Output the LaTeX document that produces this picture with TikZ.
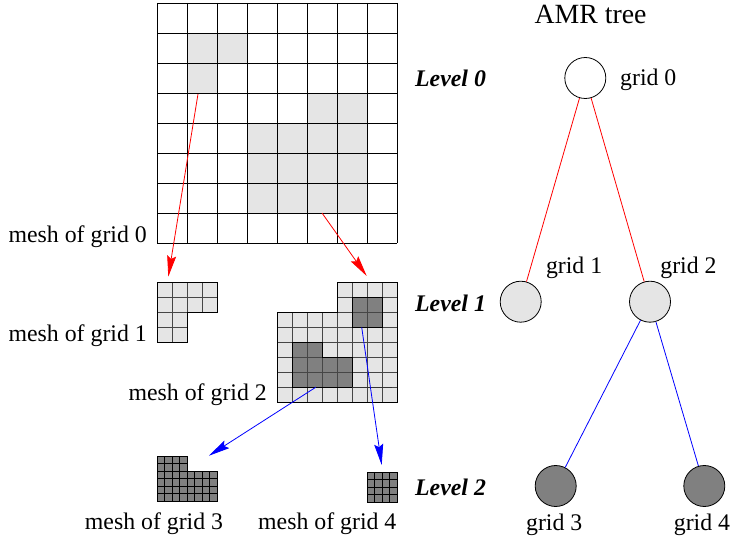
\documentclass[tikz,border=0pt]{standalone}
\usepackage{fontspec}
\setmainfont{Liberation Serif}
\usetikzlibrary{arrows.meta}
\definecolor{lightcell}{RGB}{229,229,229}
\definecolor{darkcell}{RGB}{128,128,128}
\definecolor{fineline}{RGB}{70,70,70}
\begin{document}
\begin{tikzpicture}[x=1pt,y=-1pt,
  lbl/.style={font=\fontsize{23.8}{28}\selectfont, inner sep=0pt},
  lvl/.style={font=\fontsize{23.8}{28}\selectfont\bfseries\itshape, inner sep=0pt, anchor=base west},
  treenode/.style={circle, draw, line width=0.8pt, minimum size=41pt, inner sep=0pt},
  refine/.style={-{Stealth[length=21pt,width=9pt,inset=3pt]}, line width=0.8pt},
  treeedge/.style={line width=0.8pt},
  coarse/.style={line width=0.9pt, black},
  fine/.style={line width=0.7pt, fineline},
  outline/.style={line width=0.9pt, black, line join=miter}
]
\useasboundingbox (0,0) rectangle (731,540);

% ---------- mesh of grid 0 ----------
\fill[lightcell] (187,33) rectangle (247,63);
\fill[lightcell] (187,63) rectangle (217,93);
\fill[lightcell] (307,93) rectangle (367,123);
\fill[lightcell] (247,123) rectangle (367,213);
\foreach \i in {0,...,8}{
  \draw[coarse] ({157+30*\i},3) -- ({157+30*\i},243);
  \draw[coarse] (157,{3+30*\i}) -- (397,{3+30*\i});
}

% ---------- mesh of grid 1 ----------
\fill[lightcell] (157,282) -- (217,282) -- (217,312) -- (187,312) -- (187,342) -- (157,342) -- cycle;
\draw[fine] (172,282) -- (172,342);
\draw[fine] (187,282) -- (187,312);
\draw[fine] (202,282) -- (202,312);
\draw[fine] (157,297) -- (217,297);
\draw[fine] (157,312) -- (187,312);
\draw[fine] (157,327) -- (187,327);
\draw[outline] (157,282) -- (217,282) -- (217,312) -- (187,312) -- (187,342) -- (157,342) -- cycle;

% ---------- mesh of grid 2 ----------
\fill[lightcell] (337,282) -- (397,282) -- (397,402) -- (277,402) -- (277,312) -- (337,312) -- cycle;
\fill[darkcell] (352,297) rectangle (382,327);
\fill[darkcell] (292,342) -- (322,342) -- (322,357) -- (352,357) -- (352,387) -- (292,387) -- cycle;
\foreach \k in {1,2,3,4}{\draw[fine] ({277+15*\k},312) -- ({277+15*\k},402);}
\foreach \k in {5,6,7}{\draw[fine] ({277+15*\k},282) -- ({277+15*\k},402);}
\draw[fine] (337,297) -- (397,297);
\foreach \j in {1,...,5}{\draw[fine] (277,{312+15*\j}) -- (397,{312+15*\j});}
\draw[fine] (337,312) -- (397,312);
\draw[outline] (337,282) -- (397,282) -- (397,402) -- (277,402) -- (277,312) -- (337,312) -- cycle;
\draw[outline] (352,297) rectangle (382,327);
\draw[outline] (292,342) -- (322,342) -- (322,357) -- (352,357) -- (352,387) -- (292,387) -- cycle;
\draw[line width=0.8pt, black!80] (352,387) -- (392,387);

% ---------- mesh of grid 3 ----------
\fill[darkcell] (157,456) -- (187,456) -- (187,471) -- (217,471) -- (217,501) -- (157,501) -- cycle;
\foreach \k in {1,2,3}{\draw[line width=0.6pt] ({157+7.5*\k},456) -- ({157+7.5*\k},501);}
\foreach \k in {5,6,7}{\draw[line width=0.6pt] ({157+7.5*\k},471) -- ({157+7.5*\k},501);}
\draw[line width=0.6pt] (187,456) -- (187,501);
\draw[line width=0.6pt] (157,463.5) -- (187,463.5);
\foreach \j in {3,4,5}{\draw[line width=0.6pt] (157,{456+7.5*\j}) -- (217,{456+7.5*\j});}
\draw[line width=0.6pt] (157,471) -- (217,471);
\draw[outline] (157,456) -- (187,456) -- (187,471) -- (217,471) -- (217,501) -- (157,501) -- cycle;

% ---------- mesh of grid 4 ----------
\fill[darkcell] (367,472) rectangle (397,502);
\foreach \k in {1,2,3}{
  \draw[line width=0.6pt] ({367+7.5*\k},472) -- ({367+7.5*\k},502);
  \draw[line width=0.6pt] (367,{472+7.5*\k}) -- (397,{472+7.5*\k});
}
\draw[outline] (367,472) rectangle (397,502);

% ---------- refinement arrows ----------
\coordinate (r1s) at (198,94);
\coordinate (r1e) at (168.3,276.7);
\coordinate (r2s) at (322,213);
\coordinate (r2e) at (366.7,276);
\coordinate (b1s) at (315.7,387.3);
\coordinate (b1e) at (209,455.7);
\coordinate (b2s) at (361.7,327.3);
\coordinate (b2e) at (381.7,465);
\draw[refine, red] (r1s) -- (r1e);
\draw[refine, red] (r2s) -- (r2e);
\draw[refine, blue] (b1s) -- (b1e);
\draw[refine, blue] (b2s) -- (b2e);

% ---------- mesh labels ----------
\node[lbl, anchor=base east] (m0) at (147,242.5) {mesh of grid 0};
\node[lbl, anchor=base east] (m1) at (147,341.5) {mesh of grid 1};
\node[lbl, anchor=base east] (m2) at (267,400) {mesh of grid 2};
\node[lbl, anchor=base] (m3) at (154,529.5) {mesh of grid 3};
\node[lbl, anchor=base] (m4) at (327.3,529.5) {mesh of grid 4};

% ---------- level labels ----------
\node[lvl] (l0) at (415,86.5) {Level 0};
\node[lvl] (l1) at (415,311.5) {Level 1};
\node[lvl] (l2) at (415,495.5) {Level 2};

% ---------- AMR tree ----------
\node[lbl, anchor=base, font=\fontsize{27.8}{32}\selectfont] (title) at (590.5,24) {AMR tree};
\node[treenode, fill=white] (g0) at (585.3,78) {};
\node[treenode, fill=lightcell] (g1) at (520.7,301.7) {};
\node[treenode, fill=lightcell] (g2) at (650,301.7) {};
\node[treenode, fill=darkcell] (g3) at (555.7,486) {};
\node[treenode, fill=darkcell] (g4) at (704.3,486) {};
\draw[treeedge, red] (g0) -- (g1);
\draw[treeedge, red] (g0) -- (g2);
\draw[treeedge, blue] (g2) -- (g3);
\draw[treeedge, blue] (g2) -- (g4);

\node[lbl, anchor=base west] (t0) at (620,86) {grid 0};
\node[lbl, anchor=base west] (t1) at (545.8,273.5) {grid 1};
\node[lbl, anchor=base west] (t2) at (660.2,273.5) {grid 2};
\node[lbl, anchor=base] (t3) at (554.2,530) {grid 3};
\node[lbl, anchor=base] (t4) at (702,530) {grid 4};
\end{tikzpicture}
\end{document}
